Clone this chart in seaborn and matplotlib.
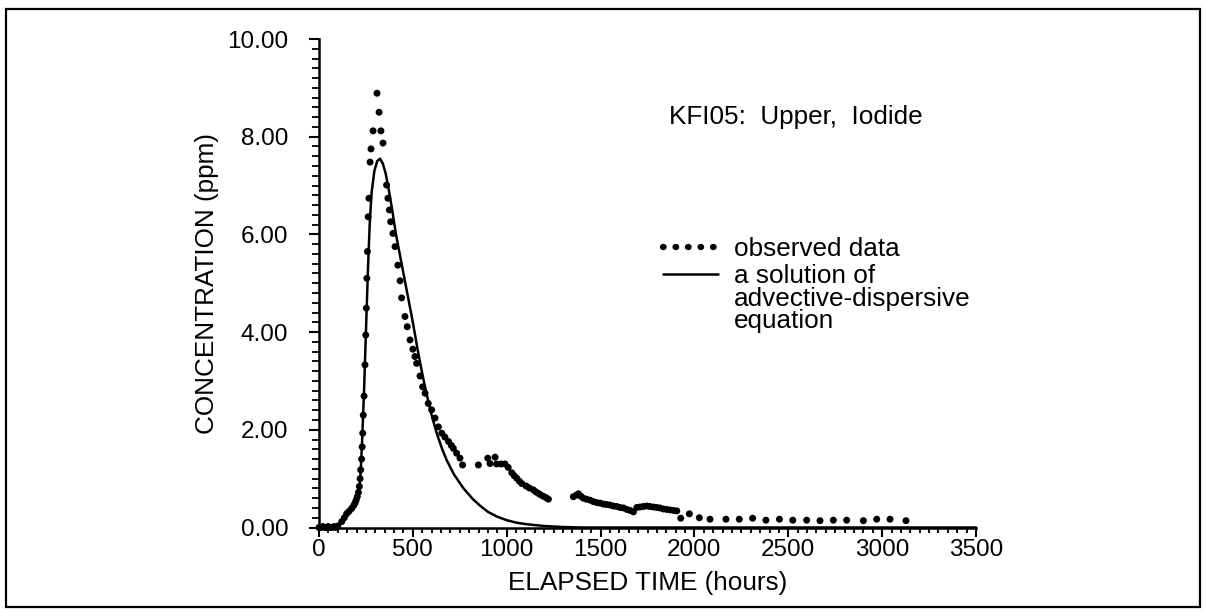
import matplotlib
matplotlib.use("Agg")
import matplotlib.pyplot as plt
import seaborn as sns
import pandas as pd
from matplotlib.ticker import MultipleLocator, FormatStrFormatter
from matplotlib.lines import Line2D
from matplotlib.patches import Rectangle

# ---------------- data ----------------
obs_time = [0, 10, 20, 30, 40, 50, 60, 70, 80, 90, 100,
            121, 135, 147, 160, 174, 185, 192, 198, 204, 210, 215, 219, 222, 227,
            230, 233, 236, 240, 245, 249, 252, 255, 258, 262, 266, 272, 277, 288,
            309, 320, 330, 341,
            360, 367, 375, 382, 394, 405, 420, 432, 440, 458, 470, 485, 500, 511,
            520, 538, 552, 565, 582, 600, 618, 636, 654, 671, 690, 705, 716, 733,
            751, 765, 849, 899, 911, 938, 946, 970, 991, 1008, 1027, 1040, 1053,
            1067, 1080, 1103, 1120, 1142, 1155, 1168, 1180, 1195, 1210, 1222,
            1355, 1370, 1382, 1395, 1408, 1425, 1444, 1462, 1480, 1497, 1515,
            1532, 1550, 1568, 1586, 1604, 1622, 1640, 1657, 1675, 1693, 1710,
            1728, 1746, 1763, 1781, 1799, 1816, 1834, 1852, 1870, 1888, 1906,
            1927, 1973, 2026, 2083, 2168, 2239, 2310, 2381, 2453, 2524, 2598,
            2669, 2740, 2811, 2900, 2971, 3042, 3127]
obs_conc = [0.0, 0.0, 0.02, 0.0, 0.0, 0.02, 0.0, 0.0, 0.02, 0.0, 0.03,
            0.12, 0.20, 0.28, 0.33, 0.39, 0.45, 0.50, 0.56, 0.63, 0.72, 0.84, 1.00, 1.18, 1.40,
            1.65, 1.93, 2.30, 2.69, 3.33, 3.94, 4.49, 5.10, 5.65, 6.36, 6.74, 7.48, 7.75, 8.12,
            8.89, 8.50, 8.12, 7.87,
            7.01, 6.74, 6.50, 6.26, 6.02, 5.75, 5.37, 5.05, 4.70, 4.32, 4.11, 3.84, 3.65, 3.50,
            3.36, 3.10, 2.88, 2.75, 2.54, 2.41, 2.24, 2.06, 1.93, 1.85, 1.76, 1.68, 1.62, 1.52,
            1.42, 1.28, 1.28, 1.42, 1.31, 1.44, 1.30, 1.30, 1.30, 1.23, 1.12, 1.06, 1.01,
            0.95, 0.90, 0.85, 0.81, 0.77, 0.73, 0.70, 0.67, 0.64, 0.61, 0.58,
            0.63, 0.66, 0.69, 0.64, 0.60, 0.58, 0.56, 0.53, 0.51, 0.50, 0.48,
            0.47, 0.46, 0.44, 0.43, 0.41, 0.40, 0.37, 0.35, 0.32, 0.41, 0.42,
            0.43, 0.44, 0.43, 0.42, 0.41, 0.40, 0.38, 0.37, 0.36, 0.35, 0.34,
            0.19, 0.28, 0.20, 0.17, 0.17, 0.17, 0.19, 0.15, 0.17, 0.15, 0.15,
            0.14, 0.15, 0.15, 0.14, 0.17, 0.17, 0.14]

model_time = [0, 100, 120, 150, 180, 200, 215, 222, 230, 240, 250, 260, 270, 280,
              295, 310, 325, 340, 355, 370, 390, 410, 430, 450, 475, 500, 525, 550,
              575, 600, 627, 655, 680, 720, 770, 820, 860, 900, 950, 1000, 1050,
              1100, 1150, 1200, 1300, 1400, 1600, 2000, 3500]
model_conc = [0.0, 0.0, 0.10, 0.28, 0.42, 0.55, 0.80, 1.15, 1.80, 2.80, 4.00, 5.20, 6.20, 6.85,
              7.30, 7.50, 7.55, 7.45, 7.25, 6.95, 6.50, 6.00, 5.60, 5.20, 4.70, 4.20, 3.65, 3.15,
              2.70, 2.30, 1.93, 1.62, 1.38, 1.08, 0.80, 0.58, 0.44, 0.32, 0.22, 0.15, 0.10,
              0.07, 0.05, 0.03, 0.01, 0.0, 0.0, 0.0, 0.0]

x_ticks = [0, 500, 1000, 1500, 2000, 2500, 3000, 3500]
y_ticks = [0, 2, 4, 6, 8, 10]

title_text = "KFI05:  Upper,  Iodide"
legend_labels = ["observed data", "a solution of"]
legend_cont = "advective-dispersive\nequation"
x_label = "ELAPSED TIME (hours)"
y_label = "CONCENTRATION (ppm)"

obs_df = pd.DataFrame({"time": obs_time, "conc": obs_conc})
model_df = pd.DataFrame({"time": model_time, "conc": model_conc})

# ---------------- style ----------------
sns.set_theme(style="ticks")
plt.rcParams["font.family"] = ["Liberation Sans", "DejaVu Sans"]
plt.rcParams["text.color"] = "black"

TICK_FS = 17.5
TEXT_FS = 18.8

W, H = 1205, 612
fig = plt.figure(figsize=(W / 100, H / 100), dpi=100)
fig.patch.set_facecolor("white")
ax = fig.add_axes([319 / W, 1 - 527.5 / H, (976 - 319) / W, (527.5 - 39) / H])
ax.set_facecolor("white")

sns.lineplot(data=model_df, x="time", y="conc", ax=ax, color="black",
             linewidth=1.8, sort=False, estimator=None, legend=False, clip_on=False)
sns.scatterplot(data=obs_df, x="time", y="conc", ax=ax, color="black", s=25,
                edgecolor="none", legend=False, clip_on=False, zorder=3)

ax.set_xlim(0, 3500)
ax.set_ylim(0, 10)
ax.set_xticks(x_ticks)
ax.set_yticks(y_ticks)
ax.xaxis.set_minor_locator(MultipleLocator(50))
ax.yaxis.set_minor_locator(MultipleLocator(0.2))
ax.yaxis.set_major_formatter(FormatStrFormatter("%.2f"))

for side in ["top", "right"]:
    ax.spines[side].set_visible(False)
for side in ["left", "bottom"]:
    ax.spines[side].set_linewidth(1.8)
    ax.spines[side].set_color("black")

ax.tick_params(axis="y", which="major", direction="out", length=7, width=1.5,
               labelsize=TICK_FS, pad=15, colors="black")
ax.tick_params(axis="y", which="minor", direction="out", length=5, width=1.3, colors="black")
ax.tick_params(axis="x", which="major", direction="out", length=6.5, width=1.5,
               labelsize=TICK_FS, pad=2, colors="black")
ax.tick_params(axis="x", which="minor", direction="out", length=3.6, width=1.3, colors="black")

ax.set_xlabel(x_label, fontsize=TEXT_FS, labelpad=7, color="black")
ax.set_ylabel(y_label, fontsize=TEXT_FS, labelpad=6, color="black")

ax.text(1865, 8.25, title_text, fontsize=TEXT_FS, va="baseline", ha="left", color="black")

handles = [Line2D([], [], color="black", linestyle=(0, (0.1, 1.9)), linewidth=4.5,
                  dash_capstyle="round"),
           Line2D([], [], color="black", linewidth=1.8)]
leg = ax.legend(handles, legend_labels, loc="upper left",
                bbox_to_anchor=((663 - 319) / (976 - 319), 1 - (237 - 39) / (527.5 - 39)),
                frameon=False, fontsize=TEXT_FS, handlelength=2.1, handletextpad=0.6,
                labelspacing=0.13, borderaxespad=0, borderpad=0, labelcolor="black")

# continuation lines of the second legend label, placed under it
fig.canvas.draw()
bb = leg.get_texts()[1].get_window_extent()
fx, fy = fig.transFigure.inverted().transform((bb.x0, bb.y0))
fig.text(fx, fy + 1.5 / H, legend_cont, va="top", ha="left", fontsize=TEXT_FS,
         linespacing=0.9, color="black")

# figure border
fig.patches.append(Rectangle((6 / W, 5 / H), (1200 - 6) / W, (607 - 9) / H,
                             transform=fig.transFigure, fill=False,
                             edgecolor="black", linewidth=1.6))

fig.savefig("out.png", dpi=100)
